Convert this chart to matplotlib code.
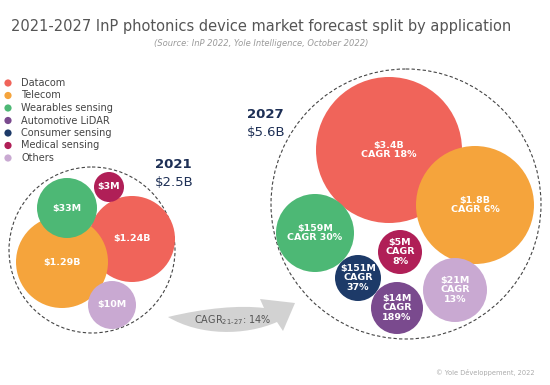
import matplotlib
matplotlib.use("Agg")
import matplotlib.pyplot as plt
from matplotlib.patches import Circle, PathPatch
from matplotlib.path import Path

# ---------------- data ----------------
categories = ["Datacom", "Telecom", "Wearables sensing", "Automotive LiDAR",
              "Consumer sensing", "Medical sensing", "Others"]
colors = ["#F0645A", "#F5A43C", "#4DB875", "#7A4A8E", "#1D3A68", "#B01F57", "#C9A9D2"]

labels_2021 = {"Datacom": "$1.24B", "Telecom": "$1.29B", "Wearables sensing": "$33M",
               "Medical sensing": "$3M", "Others": "$10M"}
labels_2027 = {"Datacom": "$3.4B", "Telecom": "$1.8B", "Wearables sensing": "$159M",
               "Automotive LiDAR": "$14M", "Consumer sensing": "$151M",
               "Medical sensing": "$5M", "Others": "$21M"}
cagr_2027 = {"Datacom": "18%", "Telecom": "6%", "Wearables sensing": "30%",
             "Automotive LiDAR": "189%", "Consumer sensing": "37%",
             "Medical sensing": "8%", "Others": "13%"}
total_2021 = "$2.5B"
total_2027 = "$5.6B"
cagr_total = "14%"

# ---------------- layout (pixel space) ----------------
layout_2021 = [  # draw order: (category, x, y, r)
    ("Datacom", 132, 239, 43),
    ("Telecom", 62, 262, 46),
    ("Others", 112, 305, 24),
    ("Wearables sensing", 67, 208, 30),
    ("Medical sensing", 109, 187, 15),
]
layout_2027 = [
    ("Datacom", 389, 150, 73),
    ("Telecom", 475, 205, 59),
    ("Wearables sensing", 315, 233, 39),
    ("Medical sensing", 400, 252, 22),
    ("Consumer sensing", 358, 278, 23),
    ("Automotive LiDAR", 397, 308, 26),
    ("Others", 455, 290, 32),
]
col = dict(zip(categories, colors))

fig = plt.figure(figsize=(5.5, 3.85), dpi=100)
ax = fig.add_axes([0, 0, 1, 1])
ax.set_xlim(0, 550)
ax.set_ylim(385, 0)
ax.axis("off")

# title
ax.text(261, 27, "2021-2027 InP photonics device market forecast split by application",
        ha="center", va="center", fontsize=10.5, color="#555555")
ax.text(261, 44, "(Source: InP 2022, Yole Intelligence, October 2022)",
        ha="center", va="center", fontsize=6, color="#9a9a9a", style="italic")

# legend
for i, (c, k) in enumerate(zip(categories, colors)):
    y = 83 + i * 12.5
    ax.add_patch(Circle((8, y), 3.6, color=k, lw=0))
    ax.text(21, y, c, ha="left", va="center", fontsize=7, color="#444444")

# dashed group circles
for (cx, cy, r) in [(92, 250, 83), (406, 204, 135)]:
    ax.add_patch(Circle((cx, cy), r, fill=False, ls=(0, (3, 2)), lw=0.8, ec="#444444"))

# 2021 bubbles
for cat, x, y, r in layout_2021:
    ax.add_patch(Circle((x, y), r, color=col[cat], lw=0))
    ax.text(x, y, labels_2021[cat], ha="center", va="center", fontsize=6.8,
            color="white", fontweight="bold")

# 2027 bubbles
for cat, x, y, r in layout_2027:
    ax.add_patch(Circle((x, y), r, color=col[cat], lw=0))
    if r > 35:
        txt = f"{labels_2027[cat]}\nCAGR {cagr_2027[cat]}"
    else:
        txt = f"{labels_2027[cat]}\nCAGR\n{cagr_2027[cat]}"
    ax.text(x, y, txt, ha="center", va="center", fontsize=6.8, color="white",
            fontweight="bold", linespacing=1.05)

# year headers
ax.text(173, 165, "2021", ha="center", va="center", fontsize=9.5, fontweight="bold", color="#1D2F55")
ax.text(174, 183, total_2021, ha="center", va="center", fontsize=9.5, color="#1D2F55")
ax.text(265, 115, "2027", ha="center", va="center", fontsize=9.5, fontweight="bold", color="#1D2F55")
ax.text(266, 133, total_2027, ha="center", va="center", fontsize=9.5, color="#1D2F55")

# curved arrow
verts = [(168, 317), (205, 308), (240, 305), (264, 308),
         (260, 299), (295, 303), (283, 331), (277, 322),
         (245, 336), (200, 336), (168, 317)]
codes = [Path.MOVETO, Path.CURVE4, Path.CURVE4, Path.CURVE4,
         Path.LINETO, Path.LINETO, Path.LINETO, Path.LINETO,
         Path.CURVE4, Path.CURVE4, Path.CURVE4]
ax.add_patch(PathPatch(Path(verts, codes), fc="#d2d2d2", ec="none"))
ax.text(233, 320, "CAGR$_{21\\text{-}27}$: " + cagr_total, ha="center", va="center",
        fontsize=7, color="#555555")

ax.text(535, 373, "© Yole Développement, 2022", ha="right", va="center",
        fontsize=4.8, color="#aaaaaa")

fig.savefig("out.png", dpi=100)
